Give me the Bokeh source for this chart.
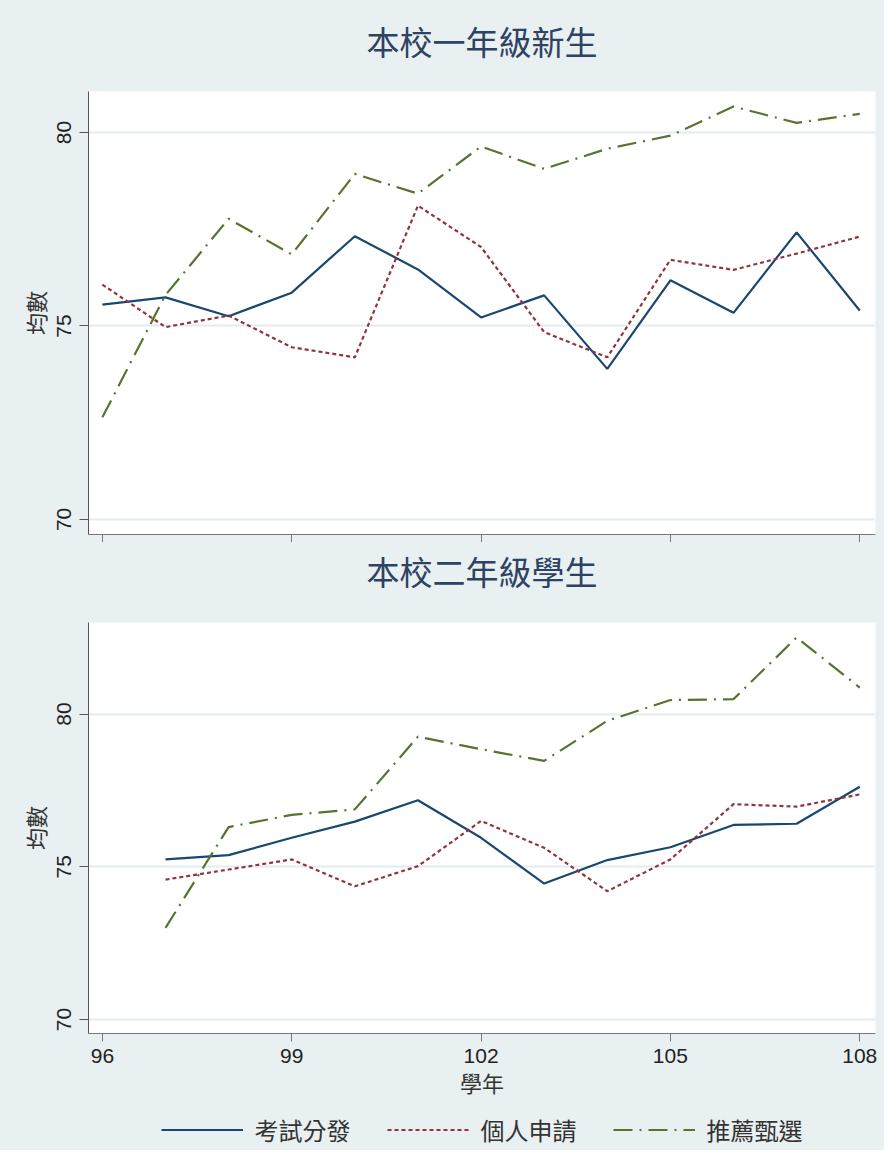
from bokeh.plotting import figure
from bokeh.layouts import column
from bokeh.models import Range1d, Legend, LegendItem, FixedTicker
from bokeh.core.properties import value
from bokeh.embed import file_html
from bokeh.resources import INLINE

# ---- data ----
years1 = [96, 97, 98, 99, 100, 101, 102, 103, 104, 105, 106, 107, 108]
g1_exam = [75.55, 75.74, 75.25, 75.86, 77.32, 76.46, 75.22, 75.79, 73.89, 76.18, 75.34, 77.42, 75.40]
g1_apply = [76.07, 74.97, 75.27, 74.45, 74.19, 78.11, 77.04, 74.84, 74.19, 76.71, 76.45, 76.87, 77.31]
g1_recommend = [72.64, 75.80, 77.77, 76.85, 78.93, 78.42, 79.64, 79.06, 79.58, 79.92, 80.67, 80.25, 80.48]

years2 = [97, 98, 99, 100, 101, 102, 103, 104, 105, 106, 107, 108]
g2_exam = [75.24, 75.38, 75.95, 76.48, 77.18, 75.95, 74.45, 75.22, 75.64, 76.37, 76.41, 77.62]
g2_apply = [74.58, 74.91, 75.24, 74.36, 75.02, 76.50, 75.62, 74.20, 75.24, 77.05, 76.97, 77.37]
g2_recommend = [73.00, 76.30, 76.70, 76.88, 79.26, 78.85, 78.47, 79.78, 80.46, 80.49, 82.51, 80.87]

series_names = ["考試分發", "個人申請", "推薦甄選"]
titles = ["本校一年級新生", "本校二年級學生"]
x_ticks = [96, 99, 102, 105, 108]
y_ticks = [70, 75, 80]
y_label = "均數"
x_label = "學年"

# ---- style ----
BG = "#E9F0F2"
GRID = "#E3ECEF"
COLORS = ["#1A476F", "#90353B", "#55752F"]
DASHES = ["solid", "4 3", "19 7 2 7"]
TITLE_COLOR = "#2E4262"
CJK = "Noto Sans CJK TC"
NUM = "Liberation Sans"
W = 884
LEFT = 88
RIGHT = W - 875


def strip(height, top=0, bottom=0):
    s = figure(width=W, height=height, output_backend="svg", toolbar_location=None,
               x_range=Range1d(0, 1), y_range=Range1d(0, height - top - bottom),
               x_axis_type=None, y_axis_type=None, title=None,
               min_border_left=LEFT, min_border_right=RIGHT,
               min_border_top=top, min_border_bottom=bottom)
    s.grid.grid_line_color = None
    s.outline_line_color = None
    s.background_fill_color = None
    s.border_fill_color = BG
    s.styles = {"background-color": BG}
    return s


def title_strip(text, height, center_from_top):
    s = strip(height)
    s.text(x=[0.5], y=[height - center_from_top], text=[text],
           text_font=value(CJK), text_font_size="33px", text_color=TITLE_COLOR,
           text_align="center", text_baseline="middle")
    return s


def make_fig(height, y_range, top_border, bottom_border, show_xlabels):
    p = figure(width=W, height=height, output_backend="svg", toolbar_location=None,
               title=None,
               x_range=Range1d(95.78, 108.25), y_range=Range1d(*y_range),
               min_border_left=LEFT, min_border_right=RIGHT,
               min_border_top=top_border, min_border_bottom=bottom_border)
    p.background_fill_color = "white"
    p.border_fill_color = BG
    p.outline_line_color = None
    p.styles = {"background-color": BG}

    p.xgrid.grid_line_color = None
    p.ygrid.grid_line_color = GRID
    p.ygrid.grid_line_width = 2
    p.ygrid.ticker = FixedTicker(ticks=y_ticks)

    ya = p.yaxis[0]
    ya.ticker = FixedTicker(ticks=y_ticks)
    ya.major_label_orientation = "vertical"
    ya.major_label_text_font = NUM
    ya.major_label_text_font_size = "21px"
    ya.major_label_text_color = "#222222"
    ya.major_label_standoff = 8
    ya.major_tick_out = 9
    ya.major_tick_in = 0
    ya.minor_tick_out = 0
    ya.minor_tick_in = 0
    ya.axis_line_color = "#555555"
    ya.major_tick_line_color = "#555555"
    ya.axis_label = y_label
    ya.axis_label_text_font = CJK
    ya.axis_label_text_font_size = "22px"
    ya.axis_label_text_font_style = "normal"
    ya.axis_label_text_color = "#333333"
    ya.axis_label_standoff = 4

    xa = p.xaxis[0]
    xa.ticker = FixedTicker(ticks=x_ticks)
    xa.major_tick_out = 8
    xa.major_tick_in = 0
    xa.minor_tick_out = 0
    xa.minor_tick_in = 0
    xa.axis_line_color = "#777777"
    xa.major_tick_line_color = "#777777"
    if show_xlabels:
        xa.major_label_text_font = NUM
        xa.major_label_text_font_size = "21px"
        xa.major_label_text_color = "#222222"
        xa.major_label_standoff = 7
        xa.axis_label = x_label
        xa.axis_label_text_font = CJK
        xa.axis_label_text_font_size = "22px"
        xa.axis_label_text_font_style = "normal"
        xa.axis_label_text_color = "#333333"
        xa.axis_label_standoff = 0
    else:
        xa.major_label_overrides = {t: "" for t in x_ticks}
        xa.major_label_text_font_size = "1px"
        xa.major_label_standoff = 0
    return p


t1 = title_strip(titles[0], 78, 40)
p1 = make_fig(464, (69.61, 81.06), 13, 8, False)
t2 = title_strip(titles[1], 58, 28)
p2 = make_fig(500, (69.54, 83.0), 22, 67, True)

for p, xs, data in ((p1, years1, (g1_exam, g1_apply, g1_recommend)),
                    (p2, years2, (g2_exam, g2_apply, g2_recommend))):
    for vals, c, d in zip(data, COLORS, DASHES):
        p.line(xs, vals, line_color=c, line_width=2.2, line_dash=d)

# legend strip (series redrawn outside its visible range, used only as legend keys)
p3 = strip(50, top=8, bottom=0)
items = []
for n, vals, c, d in zip(series_names, (g2_exam, g2_apply, g2_recommend), COLORS, DASHES):
    r = p3.line(years2, vals, line_color=c, line_width=2.2, line_dash=d)
    items.append(LegendItem(label=n, renderers=[r]))
legend = Legend(items=items, orientation="horizontal", location="center")
legend.glyph_width = 82
legend.glyph_height = 20
legend.label_text_font = CJK
legend.label_text_font_size = "24px"
legend.label_text_color = "#333333"
legend.label_standoff = 12
legend.spacing = 36
legend.background_fill_alpha = 0
legend.border_line_color = None
legend.padding = 0
legend.margin = 0
p3.add_layout(legend, "center")

layout = column(t1, p1, t2, p2, p3, spacing=0)
layout.styles = {"background-color": BG}
open("out.html", "w").write(file_html(layout, INLINE))
